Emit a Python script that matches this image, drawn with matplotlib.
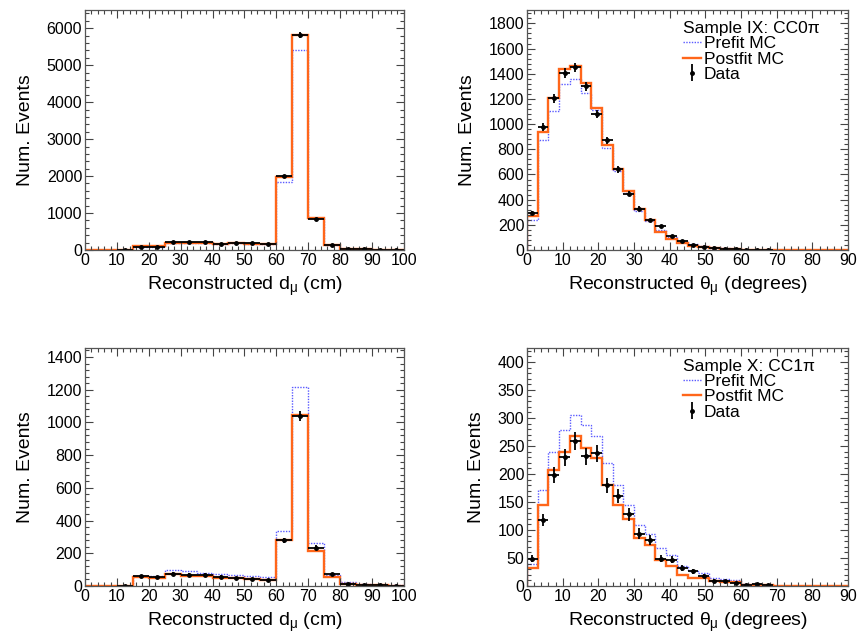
import numpy as np
import matplotlib
matplotlib.use('Agg')
import matplotlib.pyplot as plt
from matplotlib.ticker import MultipleLocator

plt.rcParams['font.family'] = ['Liberation Sans', 'DejaVu Sans']
plt.rcParams['mathtext.fontset'] = 'custom'
plt.rcParams['mathtext.rm'] = 'Liberation Sans'
plt.rcParams['mathtext.it'] = 'Liberation Sans'
plt.rcParams['mathtext.sf'] = 'Liberation Sans'

# bin edges
d_edges = np.arange(0, 101, 5)
th_edges = np.arange(0, 91, 3)

# Sample IX: CC0pi, d_mu
cc0_d_prefit = [0, 0, 0, 95, 95, 178, 180, 178, 158, 185, 168, 160, 1850, 5420, 880, 145, 40, 28, 12, 6]
cc0_d_postfit = [0, 0, 0, 100, 100, 185, 185, 180, 160, 190, 170, 165, 1970, 5820, 870, 140, 35, 25, 10, 5]
cc0_d_data = [0, 0, 2, 90, 90, 205, 205, 205, 165, 200, 190, 170, 1995, 5820, 850, 135, 25, 20, 10, 3]

# Sample IX: CC0pi, theta_mu
cc0_th_prefit = [240, 872, 1107, 1315, 1360, 1245, 1115, 813, 627, 453, 307, 232, 160, 101, 67,
                 45, 29, 19, 13, 8, 4, 2, 1, 0, 0, 0, 0, 0, 0, 0]
cc0_th_postfit = [267, 939, 1205, 1435, 1459, 1325, 1125, 835, 640, 472, 328, 240, 141, 85, 53,
                  35, 24, 16, 11, 6, 3, 2, 1, 0, 0, 0, 0, 0, 0, 0]
cc0_th_data = [293, 979, 1205, 1405, 1450, 1299, 1080, 872, 640, 448, 328, 235, 187, 112, 72,
               40, 25, 13, 8, 7, 4, 2, 1, 0, 0, 0, 0, 0, 0, 0]

# Sample X: CC1pi, d_mu
cc1_d_prefit = [0, 0, 0, 60, 62, 97, 91, 77, 71, 67, 61, 53, 335, 1217, 260, 67, 26, 12, 8, 4]
cc1_d_postfit = [0, 0, 0, 53, 47, 73, 63, 59, 51, 47, 45, 39, 280, 1047, 213, 53, 10, 5, 4, 2]
cc1_d_data = [0, 0, 2, 60, 55, 75, 68, 70, 57, 48, 45, 38, 278, 1040, 235, 72, 15, 8, 5, 2]

# Sample X: CC1pi, theta_mu
cc1_th_prefit = [39, 171, 240, 279, 306, 288, 267, 220, 181, 144, 109, 92, 67, 56, 35,
                 26, 24, 15, 13, 11, 3, 3, 1, 0, 0, 0, 0, 0, 0, 0]
cc1_th_postfit = [32, 145, 207, 239, 267, 247, 228, 180, 144, 119, 86, 73, 46, 35, 20,
                  14, 14, 8, 7, 7, 1, 2, 1, 0, 0, 0, 0, 0, 0, 0]
cc1_th_data = [49, 118, 198, 230, 258, 232, 237, 180, 160, 128, 93, 82, 49, 47, 32,
               26, 18, 9, 8, 5, 1, 3, 1, 0, 0, 0, 0, 0, 0, 0]

ORANGE = '#ff661a'
BLUE = '#5a5aff'


def draw(ax, edges, prefit, postfit, data, ymax, ymajor, xmajor, xlabel, title=None):
    edges = np.asarray(edges, dtype=float)
    data = np.asarray(data, dtype=float)
    centers = 0.5 * (edges[1:] + edges[:-1])
    halfw = 0.5 * (edges[1] - edges[0])
    ax.stairs(prefit, edges, color=BLUE, lw=1.0, ls=(0, (1, 1)), label='Prefit MC')
    ax.stairs(postfit, edges, color=ORANGE, lw=1.7, label='Postfit MC')
    m = data > 0
    ax.errorbar(centers[m], data[m], xerr=halfw, yerr=np.sqrt(data[m]), fmt='o', ms=2.5,
                color='black', ecolor='black', elinewidth=1.3, capsize=0)
    ax.set_xlim(edges[0], edges[-1])
    ax.set_ylim(0, ymax)
    ax.xaxis.set_major_locator(MultipleLocator(xmajor))
    ax.xaxis.set_minor_locator(MultipleLocator(xmajor / 5))
    ax.yaxis.set_major_locator(MultipleLocator(ymajor))
    ax.yaxis.set_minor_locator(MultipleLocator(ymajor / 5))
    ax.tick_params(which='both', direction='in', top=True, right=True, labelsize=11.5,
                   colors='#444444', labelcolor='black')
    ax.tick_params(which='major', length=6, width=0.8, pad=2)
    ax.tick_params(which='minor', length=3, width=0.8)
    for s in ax.spines.values():
        s.set_color('#555555')
        s.set_linewidth(0.9)
    ax.set_xlabel(xlabel, fontsize=14, labelpad=5)
    ax.set_ylabel('Num. Events', fontsize=14, labelpad=9)
    if title is not None:
        h, l = ax.get_legend_handles_labels()
        proxy = ax.errorbar([np.nan], [np.nan], yerr=[np.nan], fmt='o', ms=2.5, color='black',
                            elinewidth=1.3, capsize=0)
        leg = ax.legend(h[:2] + [proxy], ['Prefit MC', 'Postfit MC', 'Data'], title=title,
                        loc='upper left', bbox_to_anchor=(0.47, 0.975), frameon=False,
                        fontsize=12.5, title_fontsize=12.5, handlelength=1.0, handletextpad=0.2,
                        labelspacing=0.0, borderaxespad=0.1, borderpad=0.2)
        leg._legend_box.align = 'left'


fig = plt.figure(figsize=(8.57, 6.33), dpi=100)
ax1 = fig.add_axes([0.0992, 0.605, 0.372, 0.379])
ax2 = fig.add_axes([0.615, 0.605, 0.3746, 0.379])
ax3 = fig.add_axes([0.0992, 0.0743, 0.372, 0.376])
ax4 = fig.add_axes([0.615, 0.0743, 0.3746, 0.376])

draw(ax1, d_edges, cc0_d_prefit, cc0_d_postfit, cc0_d_data, 6490, 1000, 10,
     r'Reconstructed d$_\mu$ (cm)')
draw(ax2, th_edges, cc0_th_prefit, cc0_th_postfit, cc0_th_data, 1905, 200, 10,
     r'Reconstructed $\theta_\mu$ (degrees)', title='Sample IX: CC0\u03c0')
draw(ax3, d_edges, cc1_d_prefit, cc1_d_postfit, cc1_d_data, 1455, 200, 10,
     r'Reconstructed d$_\mu$ (cm)')
draw(ax4, th_edges, cc1_th_prefit, cc1_th_postfit, cc1_th_data, 425, 50, 10,
     r'Reconstructed $\theta_\mu$ (degrees)', title='Sample X: CC1\u03c0')

fig.savefig('out.png', dpi=100)
